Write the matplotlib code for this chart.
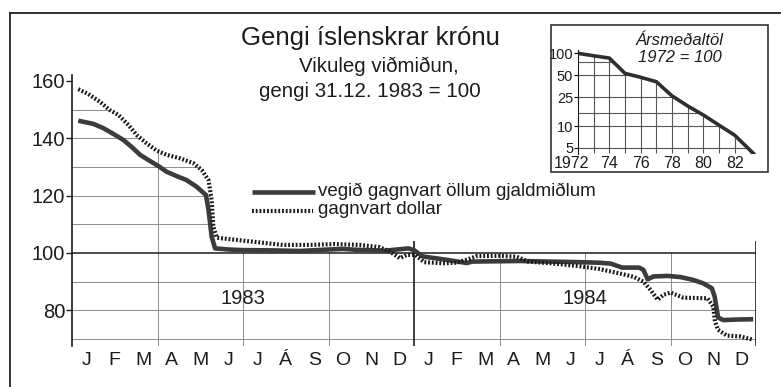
import numpy as np
import matplotlib.pyplot as plt
import matplotlib.transforms as mtransforms
from matplotlib.patches import Polygon, Rectangle
from matplotlib.lines import Line2D

plt.rcParams['font.family'] = ['Liberation Sans', 'DejaVu Sans']

# weekly index readings, x in months since 1 Jan 1983 (31.12.1983 = 100)
vegid_m = np.array([0.22, 0.75, 1.1, 1.45, 1.8, 2.09, 2.39, 2.68, 3.03, 3.32,
                    3.67, 4.02, 4.37, 4.70, 4.79, 4.9, 5.02, 5.5, 6.0, 7.0,
                    8.0, 9.0, 9.5, 10.0, 11.0, 11.5, 11.8, 12.0, 12.3, 13.15,
                    13.85, 14.05, 14.9, 15.7, 17.8, 18.5, 18.9, 19.3, 19.9, 20.05,
                    20.2, 20.4, 20.9, 21.35, 21.8, 22.15, 22.45, 22.55, 22.67, 22.85,
                    23.35, 23.9])
vegid = np.array([146.1, 145.0, 143.5, 141.5, 139.4, 137.0, 134.2, 132.4, 130.3, 128.3,
                  126.8, 125.4, 123.1, 120.2, 115.0, 105.7, 101.6, 101.2, 101.0, 100.9,
                  100.7, 101.2, 101.4, 101.1, 100.8, 101.3, 101.6, 101.0, 98.8, 97.6,
                  96.5, 97.0, 97.1, 97.2, 96.8, 96.6, 96.3, 94.9, 94.9, 94.1,
                  90.8, 91.8, 92.0, 91.6, 90.6, 89.4, 87.7, 84.8, 77.5, 76.6,
                  76.8, 76.9])

dollar_m = np.array([0.22, 0.57, 0.98, 1.33, 1.63, 1.98, 2.27, 2.62, 2.97, 3.32,
                     3.79, 4.26, 4.55, 4.79, 4.9, 4.96, 5.08, 6.0, 7.4, 8.35,
                     9.2, 10.1, 10.8, 11.15, 11.5, 11.75, 12.05, 12.35, 13.0, 13.5,
                     13.95, 14.2, 15.0, 15.6, 16.0, 16.8, 17.8, 18.5, 19.2, 19.7,
                     20.05, 20.3, 20.55, 20.75, 21.0, 21.45, 22.3, 22.5, 22.56, 22.67,
                     22.98, 23.45, 23.88])
dollar = np.array([157.1, 155.4, 152.7, 149.8, 148.1, 144.6, 141.1, 138.2, 135.7, 134.2,
                   133.0, 131.3, 128.9, 125.4, 118.5, 109.2, 105.3, 104.3, 102.8, 102.8,
                   103.1, 102.8, 102.0, 100.5, 98.2, 99.3, 99.3, 96.8, 96.4, 96.6,
                   98.0, 98.9, 99.0, 98.7, 97.0, 96.4, 95.4, 94.4, 92.9, 91.7,
                   90.0, 87.1, 83.7, 85.4, 86.2, 84.4, 84.2, 81.3, 76.1, 73.2,
                   71.2, 70.9, 69.8])

months = ['J', 'F', 'M', 'A', 'M', 'J', 'J', 'Á', 'S', 'O', 'N', 'D'] * 2
years = ['1983', '1984']

# yearly averages, 1972 = 100
ar = [1972, 1973, 1974, 1975, 1976, 1977, 1978, 1979, 1980, 1981, 1982, 1983.2]
ar_gildi = [100, 92.5, 86, 53, 46.8, 40.7, 26, 18.9, 14.2, 10.3, 7.5, 4.2]
ar_ticks = [1972, 1974, 1976, 1978, 1980, 1982]
ar_labels = ['1972', '74', '76', '78', '80', '82']

W, H = 781, 387
fig = plt.figure(figsize=(W / 100, H / 100), dpi=100)
fig.patch.set_facecolor('white')

def box(x0, y0, x1, y1):
    # pixel box (top-left origin) -> figure fraction rect
    return [x0 / W, 1 - y1 / H, (x1 - x0) / W, (y1 - y0) / H]

def fx(x):
    return x / W

def fy(y):
    return 1 - y / H

ink = '#1c1c1c'
grid = '#8c8c8c'
ymin, ymax = 67.5, 162

ax = fig.add_axes(box(72, 75.1, 756, 346.2))
ax.set_xlim(0, 24)
ax.set_ylim(ymin, ymax)
for s in ['top', 'right', 'bottom']:
    ax.spines[s].set_visible(False)
ax.spines['left'].set_color(ink)
ax.spines['left'].set_linewidth(1.2)
ax.patch.set_alpha(0)

# grid only below the dollar curve (before the devaluation) or below 100
before = dollar_m < 4.97
clip_pts = [(-0.2, ymin), (-0.2, dollar[0])] + list(zip(dollar_m[before], dollar[before])) \
    + [(4.97, 100), (24.2, 100), (24.2, ymin)]
clip = Polygon(clip_pts, closed=True, transform=ax.transData)

h = ax.hlines([70, 80, 90, 110, 120, 130, 140, 150], -0.15, 24.1, color=grid, lw=0.7, zorder=1)
h.set_clip_path(clip)
v = ax.vlines([3, 6, 9, 15, 18, 21], ymin, ymax, color=grid, lw=0.7, zorder=1)
v.set_clip_path(clip)
ax.hlines(100, 0, 24.1, color=ink, lw=1.1, zorder=1)
ax.vlines([12, 24], ymin, 104, color=ink, lw=1.2, zorder=1)

l1, = ax.plot(vegid_m, vegid, color='#3b3b3b', lw=3.3, solid_capstyle='butt', zorder=3)
l2, = ax.plot(dollar_m, dollar, color='#1a1a1a', lw=3.0, dashes=(0.45, 0.45), zorder=3)

ax.set_yticks([80, 100, 120, 140, 160])
ax.tick_params(axis='y', direction='out', length=4, width=1, color=ink, pad=1,
               labelsize=14.5, labelcolor=ink)
ax.set_xticks(np.arange(24) + 0.5)
ax.set_xticklabels(months)
ax.tick_params(axis='x', length=0, pad=4, labelsize=14, labelcolor=ink)

for i, y in enumerate(years):
    ax.text(6 + 12 * i, 84.3, y, ha='center', va='center', fontsize=14.5, color=ink)

# key, drawn with the same styles as the two lines
fig.add_artist(Line2D([fx(252), fx(315)], [fy(192.5)] * 2, transform=fig.transFigure,
                      color=l1.get_color(), lw=l1.get_linewidth(), solid_capstyle='butt'))
fig.add_artist(Line2D([fx(252), fx(313)], [fy(210.5)] * 2, transform=fig.transFigure,
                      color=l2.get_color(), lw=l2.get_linewidth(), dashes=(0.45, 0.45)))
fig.text(fx(318), fy(196), 'vegið gagnvart öllum gjaldmiðlum', ha='left', va='baseline',
         fontsize=13.5, color=ink)
fig.text(fx(318), fy(214.5), 'gagnvart dollar', ha='left', va='baseline',
         fontsize=13.5, color=ink)

fig.text(fx(370), fy(45), 'Gengi íslenskrar krónu', ha='center', va='baseline',
         fontsize=18.5, color=ink)
fig.text(fx(379), fy(72), 'Vikuleg viðmiðun,', ha='center', va='baseline',
         fontsize=14.8, color=ink)
fig.text(fx(369.5), fy(97), 'gengi 31.12. 1983 = 100', ha='center', va='baseline',
         fontsize=14.8, color=ink)

# inset: yearly averages on a log scale
fig.add_artist(Rectangle((fx(551), fy(172)), 217 / W, 147 / H, transform=fig.transFigure,
                         fill=False, ec='#333333', lw=1.2))
ins = fig.add_axes(box(578, 50.3, 756.6, 153.5))
ins.set_yscale('log')
ins.set_xlim(1972, 1983.4)
ins.set_ylim(4.2, 110)
ins.patch.set_alpha(0)
for s in ['top', 'right', 'bottom']:
    ins.spines[s].set_visible(False)
ins.spines['left'].set_color(ink)

iclip = Polygon([(1971.8, 4.2), (1971.8, ar_gildi[0])] + list(zip(ar, ar_gildi)) + [(ar[-1], 4.2)],
                closed=True, transform=ins.transData)
ih = ins.hlines([5, 10, 15, 25, 50, 75], 1971.8, 1983.4, color='#555555', lw=0.8)
ih.set_clip_path(iclip)
iv = ins.vlines(np.arange(1973, 1984), 4.2, 110, color='#555555', lw=0.8)
iv.set_clip_path(iclip)
ins.plot(ar, ar_gildi, color='#2e2e2e', lw=2.6, solid_joinstyle='round')

ins.set_yticks([5, 10, 25, 50, 100])
ins.set_yticklabels(['5', '10', '25', '50', '100'])
ins.yaxis.set_minor_locator(plt.NullLocator())
ins.yaxis.set_minor_formatter(plt.NullFormatter())
ins.tick_params(axis='y', direction='out', length=3, width=0.8, pad=0.5, labelsize=10.5,
                labelcolor=ink)
ins.set_xticks(ar_ticks)
ins.set_xticklabels(ar_labels)
ins.tick_params(axis='x', length=0, pad=2, labelsize=11.5, labelcolor=ink)
first = ins.get_xticklabels()[0]
first.set_transform(first.get_transform() + mtransforms.ScaledTranslation(-7 / 100, 0, fig.dpi_scale_trans))

fig.text(fx(680), fy(45), 'Ársmeðaltöl', ha='center', va='baseline', fontsize=12,
         style='italic', color=ink)
fig.text(fx(680), fy(62.5), '1972 = 100', ha='center', va='baseline', fontsize=12,
         style='italic', color=ink)

# outer frame (top and left edges)
fig.add_artist(Line2D([fx(10), 1], [fy(13)] * 2, transform=fig.transFigure, color='#222222', lw=1.3))
fig.add_artist(Line2D([fx(10), fx(10)], [fy(13), 0], transform=fig.transFigure, color='#222222', lw=1.3))

fig.savefig('out.png', dpi=100)
